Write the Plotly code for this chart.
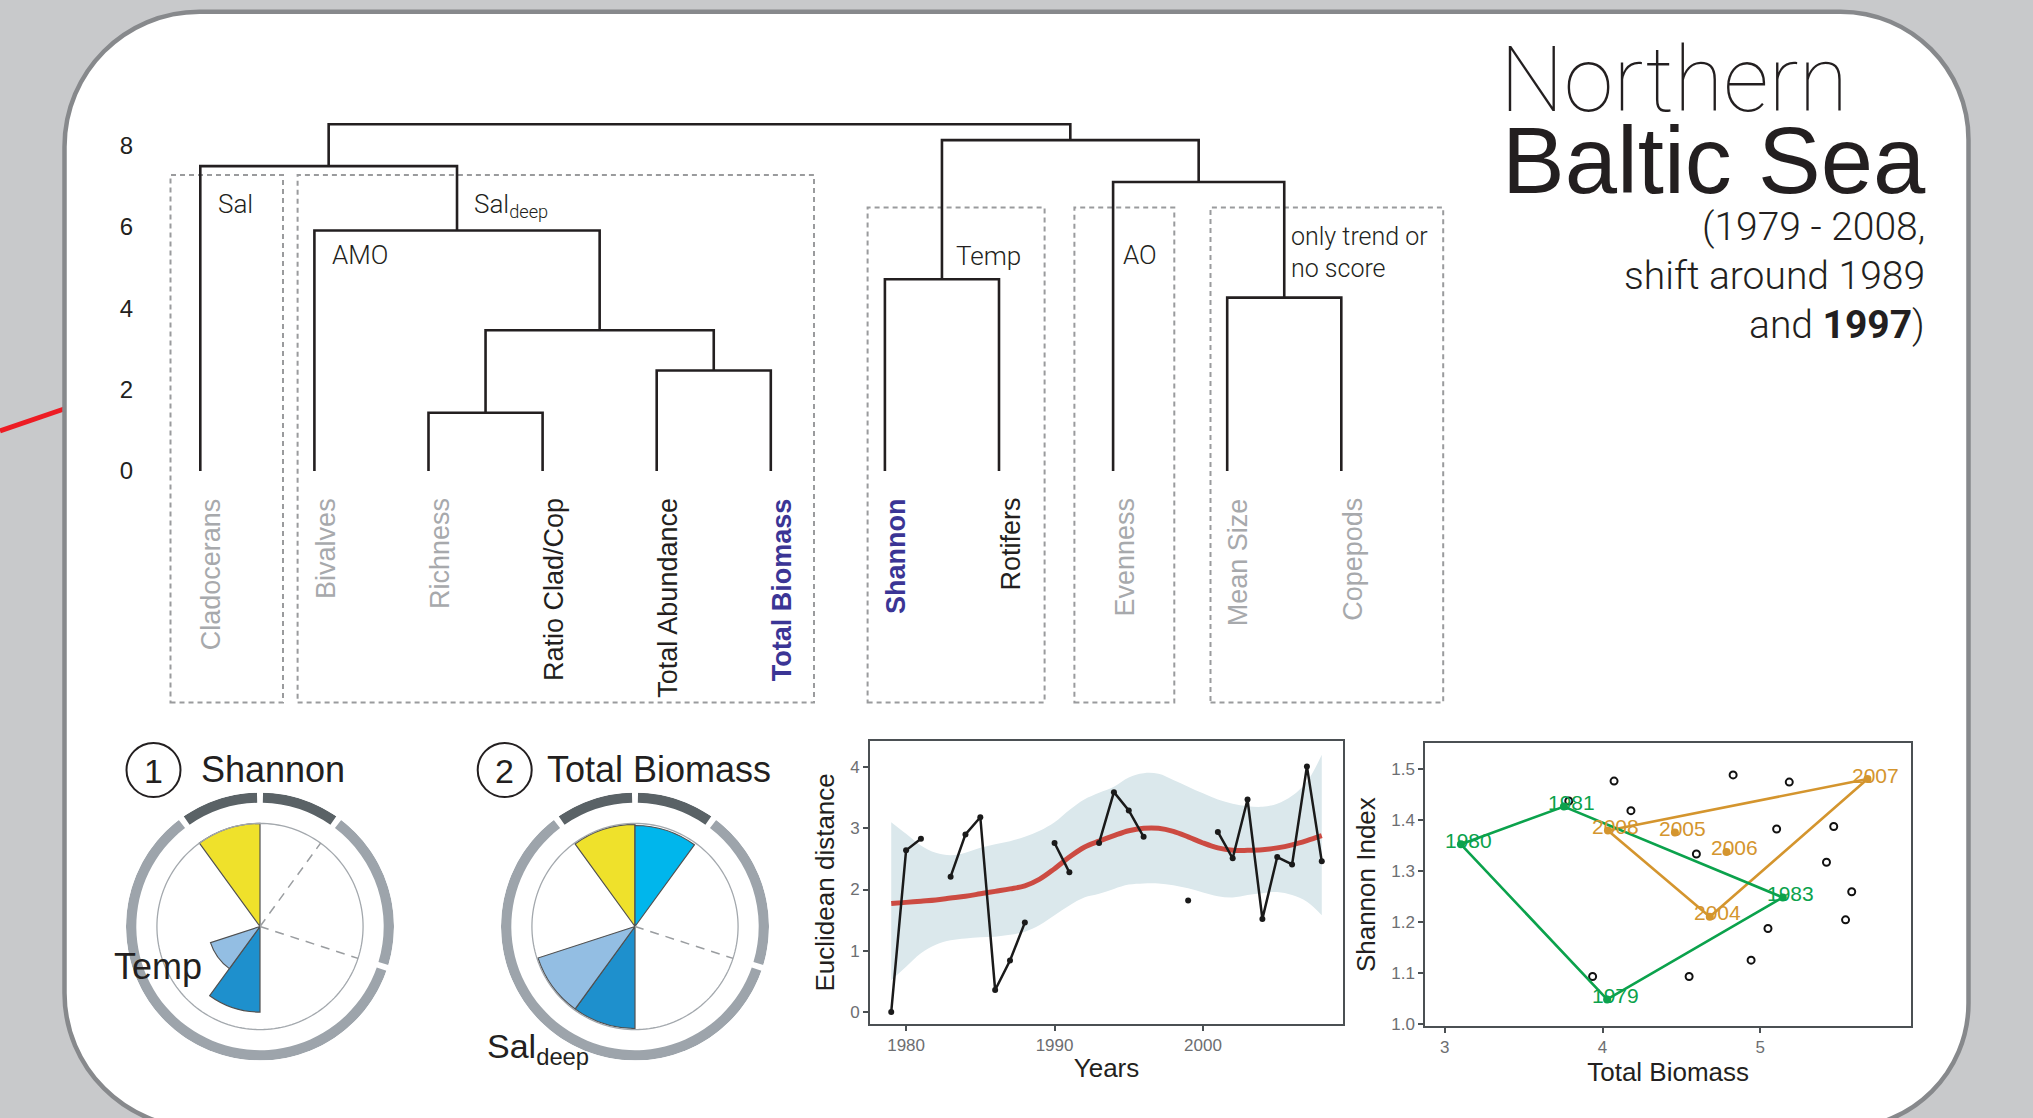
import plotly.graph_objects as go

W, H = 2033, 1118


def fx(p):
    return p / W


def fy(p):
    return 1 - p / H


SANS = "Liberation Sans, Arial, Helvetica, sans-serif"
LIGHT = "Roboto, Liberation Sans, sans-serif"

# ------------------------------------------------------------------ data
# dendrogram
leaf_names = ["Cladocerans", "Bivalves", "Richness", "Ratio Clad/Cop", "Total Abundance",
              "Total Biomass", "Shannon", "Rotifers", "Evenness", "Mean Size", "Copepods"]
leaf_status = ["none", "none", "none", "trend", "trend", "shift",
               "shift", "trend", "none", "none", "none"]
merge_left = [2, 4, 11, 9, 6, 1, 8, 0, 15, 18]
merge_right = [3, 5, 12, 10, 7, 13, 14, 16, 17, 19]
merge_height = [1.43, 2.47, 3.46, 4.26, 4.71, 5.91, 7.10, 7.49, 8.13, 8.52]
dend_ticks = [0, 2, 4, 6, 8]

# euclidean distance time series
years = list(range(1979, 2009))
euclid = [0.0, 2.64, 2.83, None, 2.21, 2.90, 3.18, 0.36, 0.84, 1.46,
          None, 2.76, 2.28, None, 2.76, 3.59, 3.29, 2.86, None, None,
          1.82, None, 2.94, 2.51, 3.47, 1.52, 2.53, 2.41, 4.01, 2.46]
trend = [1.77, 1.79, 1.81, 1.83, 1.86, 1.89, 1.93, 1.97, 2.01, 2.06,
         2.17, 2.34, 2.53, 2.69, 2.79, 2.88, 2.96, 3.00, 3.00, 2.95,
         2.86, 2.76, 2.68, 2.64, 2.64, 2.65, 2.68, 2.73, 2.80, 2.88]
band_upper = [3.10, 2.91, 2.72, 2.60, 2.56, 2.60, 2.68, 2.74, 2.79, 2.86,
              2.96, 3.10, 3.30, 3.47, 3.58, 3.68, 3.83, 3.90, 3.89, 3.79,
              3.68, 3.57, 3.47, 3.40, 3.36, 3.35, 3.40, 3.53, 3.76, 4.20]
band_lower = [0.52, 0.74, 0.96, 1.10, 1.17, 1.20, 1.22, 1.23, 1.26, 1.31,
              1.42, 1.58, 1.74, 1.87, 1.93, 2.01, 2.08, 2.10, 2.10, 2.07,
              2.02, 1.95, 1.89, 1.87, 1.91, 1.94, 1.96, 1.91, 1.80, 1.58]
euclid_ticks_x = [1980, 1990, 2000]
euclid_ticks_y = [0, 1, 2, 3, 4]

# shannon vs biomass
other_biomass = [3.786, 4.073, 4.180, 4.828, 5.184, 5.104, 5.466, 4.595,
                 5.420, 5.580, 5.541, 5.049, 4.942, 4.549, 3.937]
other_shannon = [1.438, 1.477, 1.419, 1.489, 1.475, 1.383, 1.388, 1.334,
                 1.318, 1.260, 1.205, 1.188, 1.126, 1.094, 1.094]
early_years = [1979, 1980, 1981, 1983]
early_biomass = [4.029, 3.102, 3.755, 5.143]
early_shannon = [1.049, 1.353, 1.427, 1.249]
late_years = [2004, 2005, 2006, 2007, 2008]
late_biomass = [4.680, 4.459, 4.786, 5.680, 4.034]
late_shannon = [1.211, 1.376, 1.338, 1.481, 1.380]
scatter_ticks_x = [3, 4, 5]
scatter_ticks_y = [1.0, 1.1, 1.2, 1.3, 1.4, 1.5]

# polar "driver" charts
sector_theta = [342, 18, 198, 234]
sector_width = [36, 36, 36, 36]
sector_colors = ["#efe12b", "#00b6ec", "#1e90cd", "#93bee3"]
shannon_r = [1.0, 0.0, 0.83, 0.505]
biomass_r = [0.99, 0.98, 0.99, 0.99]
ring_start = [324, 0, 36, 108]
ring_end = [360, 36, 108, 324]
ring_colors = ["#5a6266", "#5a6266", "#9da4ab", "#9da4ab"]
shannon_dashed = [36, 108]
biomass_dashed = [108]

# ------------------------------------------------------------------ figure
fig = go.Figure()
annotations = []
shapes = []


def add_text(text, x, y, size, color="#231f20", xanchor="left", yanchor="middle",
             family=SANS, weight=None, align="left"):
    font = dict(family=family, size=size, color=color)
    if weight is not None:
        font["weight"] = weight
    annotations.append(dict(text=text, x=fx(x), y=fy(y), xref="paper", yref="paper",
                            showarrow=False, xanchor=xanchor, yanchor=yanchor,
                            font=font, align=align))


# ---- background frame
shapes.append(dict(type="line", xref="paper", yref="paper", x0=fx(0), y0=fy(431),
                   x1=fx(64), y1=fy(409), line=dict(color="#ed1c24", width=5), layer="below"))

x0, y0, x1, y1 = 64.5, 11.7, 1968.5, 1128
rtl, rtr, rbr, rbl = 135, 128, 125, 135
k = 0.5523


def P(x, y):
    return f"{fx(x):.6f},{fy(y):.6f}"


path = (f"M {P(x0 + rtl, y0)} L {P(x1 - rtr, y0)} "
        f"C {P(x1 - rtr + k * rtr, y0)} {P(x1, y0 + rtr - k * rtr)} {P(x1, y0 + rtr)} "
        f"L {P(x1, y1 - rbr)} "
        f"C {P(x1, y1 - rbr + k * rbr)} {P(x1 - rbr + k * rbr, y1)} {P(x1 - rbr, y1)} "
        f"L {P(x0 + rbl, y1)} "
        f"C {P(x0 + rbl - k * rbl, y1)} {P(x0, y1 - rbl + k * rbl)} {P(x0, y1 - rbl)} "
        f"L {P(x0, y0 + rtl)} "
        f"C {P(x0, y0 + rtl - k * rtl)} {P(x0 + rtl - k * rtl, y0)} {P(x0 + rtl, y0)} Z")
shapes.append(dict(type="path", path=path, xref="paper", yref="paper", fillcolor="white",
                   line=dict(color="#87898c", width=4.5), layer="below"))

# ---- dendrogram
pos = {i: float(i) for i in range(len(leaf_names))}
hgt = {i: 0.0 for i in range(len(leaf_names))}
dxs, dys = [], []
for n, (a, b, h) in enumerate(zip(merge_left, merge_right, merge_height)):
    nid = len(leaf_names) + n
    dxs += [pos[a], pos[a], pos[b], pos[b], None]
    dys += [hgt[a], h, h, hgt[b], None]
    pos[nid] = (pos[a] + pos[b]) / 2
    hgt[nid] = h

fig.add_trace(go.Scatter(x=dxs, y=dys, mode="lines", line=dict(color="#231f20", width=2.6),
                         xaxis="x", yaxis="y", hoverinfo="skip", showlegend=False))

leaf0_px, leaf_step = 200.3, 114.1
zero_px, unit_px = 471.0, 40.7
dl, dr, dt, db = 134, 1460, 100, 720
dend_xrange = [(dl - leaf0_px) / leaf_step, (dr - leaf0_px) / leaf_step]
dend_yrange = [(zero_px - db) / unit_px, (zero_px - dt) / unit_px]

status_style = {"none": ("#a7a9ac", False), "trend": ("#231f20", False),
                "shift": ("#3b3595", True)}
for i, (name, st) in enumerate(zip(leaf_names, leaf_status)):
    col, bold = status_style[st]
    annotations.append(dict(text=f"<b>{name}</b>" if bold else name, x=i, y=fy(496),
                            xref="x", yref="paper", showarrow=False, textangle=-90,
                            xanchor="center", yanchor="top", xshift=11,
                            font=dict(family=SANS, size=27, color=col)))

# dashed grouping boxes
for bx0, bx1, by0 in [(170.5, 283, 175), (297.6, 814, 175), (867.6, 1044.6, 207.5),
                      (1074.4, 1174.3, 207.5), (1210.5, 1443.2, 207.5)]:
    shapes.append(dict(type="rect", xref="paper", yref="paper", x0=fx(bx0), x1=fx(bx1),
                       y0=fy(702.5), y1=fy(by0),
                       line=dict(color="#9a9b9d", width=2, dash="5px,4px"), layer="below"))

add_text("Sal", 216, 204, 26, family=LIGHT, weight=300)
add_text("Sal<sub>deep</sub>", 472, 205, 26, family=LIGHT, weight=300)
add_text("AMO", 330, 255, 26, family=LIGHT, weight=300)
add_text("Temp", 954, 256, 26, family=LIGHT, weight=300)
add_text("AO", 1121, 255, 26, family=LIGHT, weight=300)
add_text("only trend or", 1289, 236.5, 25, family=LIGHT, weight=300)
add_text("no score", 1289, 268, 25, family=LIGHT, weight=300)

# ---- title
add_text("Northern", 1498, 80, 90, family=LIGHT, weight=100)
add_text("Baltic Sea", 1500, 160, 94, family=SANS)
add_text("(1979 - 2008,", 1927, 227, 39, xanchor="right", family=LIGHT, weight=300)
add_text("shift around 1989", 1927, 276, 39, xanchor="right", family=LIGHT, weight=300)
add_text("and <b>1997</b>)", 1927, 325, 39, xanchor="right", family=LIGHT, weight=300)


# ---- polar driver charts
def polar_layout(cx, cy, r):
    return dict(domain=dict(x=[fx(cx - r), fx(cx + r)], y=[fy(cy + r), fy(cy - r)]),
                bgcolor="rgba(0,0,0,0)", hole=0,
                radialaxis=dict(visible=False, range=[0, 1.3]),
                angularaxis=dict(visible=False, rotation=90, direction="clockwise"))


circle_theta = list(range(0, 361, 2))
for sub, rvals, dashed in [("polar", shannon_r, shannon_dashed),
                           ("polar2", biomass_r, biomass_dashed)]:
    # grouping ring
    rt = [((s + e) / 2) % 360 for s, e in zip(ring_start, ring_end)]
    rw = [(e - s) - 2.6 for s, e in zip(ring_start, ring_end)]
    fig.add_trace(go.Barpolar(r=[0.1] * len(rt), base=[1.2] * len(rt), theta=rt, width=rw,
                              marker=dict(color=ring_colors, line=dict(width=0)),
                              subplot=sub, hoverinfo="skip", showlegend=False))
    # reference circle
    fig.add_trace(go.Scatterpolar(r=[1.0] * len(circle_theta), theta=circle_theta,
                                  mode="lines", line=dict(color="#a3a8ad", width=1.3),
                                  subplot=sub, hoverinfo="skip", showlegend=False))
    for th in dashed:
        fig.add_trace(go.Scatterpolar(r=[0, 1.0], theta=[th, th], mode="lines",
                                      line=dict(color="#9a9da0", width=1.5, dash="9px,7px"),
                                      subplot=sub, hoverinfo="skip", showlegend=False))
    keep = [i for i, v in enumerate(rvals) if v > 0]
    fig.add_trace(go.Barpolar(r=[rvals[i] for i in keep],
                              theta=[sector_theta[i] for i in keep],
                              width=[sector_width[i] for i in keep],
                              marker=dict(color=[sector_colors[i] for i in keep],
                                          line=dict(color="#505050", width=1.2)),
                              subplot=sub, hoverinfo="skip", showlegend=False))

for cx, num, title, tx in [(153.5, "1", "Shannon", 199), (504.7, "2", "Total Biomass", 545)]:
    shapes.append(dict(type="circle", xref="paper", yref="paper",
                       x0=fx(cx - 27), x1=fx(cx + 27), y0=fy(770 + 27), y1=fy(770 - 27),
                       line=dict(color="#231f20", width=2)))
    add_text(num, cx, 771, 34, xanchor="center")
    add_text(title, tx, 769, 36)

add_text("Temp", 112, 967, 36)
add_text("Sal<sub>deep</sub>", 485, 1048, 34)

# ---- euclidean distance chart
fig.add_trace(go.Scatter(x=years, y=band_lower, mode="lines", line=dict(width=0, shape="spline"),
                         xaxis="x2", yaxis="y2", hoverinfo="skip", showlegend=False))
fig.add_trace(go.Scatter(x=years, y=band_upper, mode="lines", line=dict(width=0, shape="spline"),
                         fill="tonexty", fillcolor="#dbe8ec",
                         xaxis="x2", yaxis="y2", hoverinfo="skip", showlegend=False))
fig.add_trace(go.Scatter(x=years, y=trend, mode="lines",
                         line=dict(color="#cc4b42", width=5, shape="spline"),
                         xaxis="x2", yaxis="y2", hoverinfo="skip", showlegend=False))
fig.add_trace(go.Scatter(x=years, y=euclid, mode="lines+markers", connectgaps=False,
                         line=dict(color="#1a1a1a", width=2.5),
                         marker=dict(color="#1a1a1a", size=6),
                         xaxis="x2", yaxis="y2", showlegend=False))


# ---- shannon vs biomass chart
def hull(xs, ys, labels):
    pts = sorted(zip(xs, ys, labels))

    def cross(o, a, b):
        return (a[0] - o[0]) * (b[1] - o[1]) - (a[1] - o[1]) * (b[0] - o[0])
    lower, upper = [], []
    for p in pts:
        while len(lower) >= 2 and cross(lower[-2], lower[-1], p) <= 0:
            lower.pop()
        lower.append(p)
    for p in reversed(pts):
        while len(upper) >= 2 and cross(upper[-2], upper[-1], p) <= 0:
            upper.pop()
        upper.append(p)
    h = lower[:-1] + upper[:-1]
    h.append(h[0])
    return [p[0] for p in h], [p[1] for p in h]


fig.add_trace(go.Scatter(x=other_biomass, y=other_shannon, mode="markers",
                         marker=dict(symbol="circle-open", size=7, color="#111111",
                                     line=dict(width=2, color="#111111")),
                         xaxis="x3", yaxis="y3", showlegend=False))
for yrs, bx, sy, col in [(late_years, late_biomass, late_shannon, "#d4952e"),
                         (early_years, early_biomass, early_shannon, "#0ba24c")]:
    hx, hy = hull(bx, sy, yrs)
    fig.add_trace(go.Scatter(x=hx, y=hy, mode="lines", line=dict(color=col, width=2.6),
                             xaxis="x3", yaxis="y3", hoverinfo="skip", showlegend=False))
    fig.add_trace(go.Scatter(x=bx, y=sy, mode="markers", marker=dict(color=col, size=8),
                             xaxis="x3", yaxis="y3", showlegend=False))
    for yr, xv, yv in zip(yrs, bx, sy):
        annotations.append(dict(text=str(yr), x=xv, y=yv, xref="x3", yref="y3",
                                showarrow=False, xshift=8, yshift=4,
                                font=dict(family=SANS, size=21, color=col)))

# ------------------------------------------------------------------ layout
AX = "#4b5053"
TICKF = dict(family=SANS, size=17, color="#6d6e71")
TITLEF = dict(family=SANS, size=26, color="#231f20")


def frame_axis(domain, rng, tickvals, title, standoff, fmt=None):
    d = dict(domain=domain, range=rng, tickvals=tickvals, showline=True, mirror=True,
             linecolor=AX, linewidth=2, ticks="outside", ticklen=5, tickwidth=1.5,
             tickcolor=AX, tickfont=TICKF, showgrid=False, zeroline=False,
             title=dict(text=title, font=TITLEF, standoff=standoff), automargin=False)
    if fmt:
        d["tickformat"] = fmt
    return d


e_l, e_r, e_t, e_b = 870, 1343, 740.7, 1024
s_l, s_r, s_t, s_b = 1425.3, 1911, 743.3, 1026

fig.update_layout(
    width=W, height=H, margin=dict(l=0, r=0, t=0, b=0),
    paper_bgcolor="#c8c9cb", plot_bgcolor="rgba(0,0,0,0)",
    showlegend=False,
    xaxis=dict(domain=[fx(dl), fx(dr)], range=dend_xrange, visible=False),
    yaxis=dict(domain=[fy(db), fy(dt)], range=dend_yrange, tickvals=dend_ticks,
               showline=False, ticks="", showgrid=False, zeroline=False,
               tickfont=dict(family=SANS, size=24, color="#231f20"), automargin=False),
    xaxis2=frame_axis([fx(e_l), fx(e_r)], [1977.57, 2009.43], euclid_ticks_x, "Years", 4),
    yaxis2=frame_axis([fy(e_b), fy(e_t)], [-0.196, 4.43], euclid_ticks_y,
                      "Euclidean distance", 8),
    xaxis3=frame_axis([fx(s_l), fx(s_r)], [2.876, 5.956], scatter_ticks_x, "Total Biomass", 4),
    yaxis3=frame_axis([fy(s_b), fy(s_t)], [0.997, 1.551], scatter_ticks_y,
                      "Shannon Index", 8, ".1f"),
    polar=polar_layout(260, 926.5, 134),
    polar2=polar_layout(635, 926.5, 134),
    annotations=annotations,
    shapes=shapes,
)
fig.update_layout(xaxis2_anchor="y2", yaxis2_anchor="x2", xaxis3_anchor="y3", yaxis3_anchor="x3")

fig.write_html("out.html", config={"displayModeBar": False},
               post_script="document.body.style.margin='0';document.body.style.overflow='hidden';")
